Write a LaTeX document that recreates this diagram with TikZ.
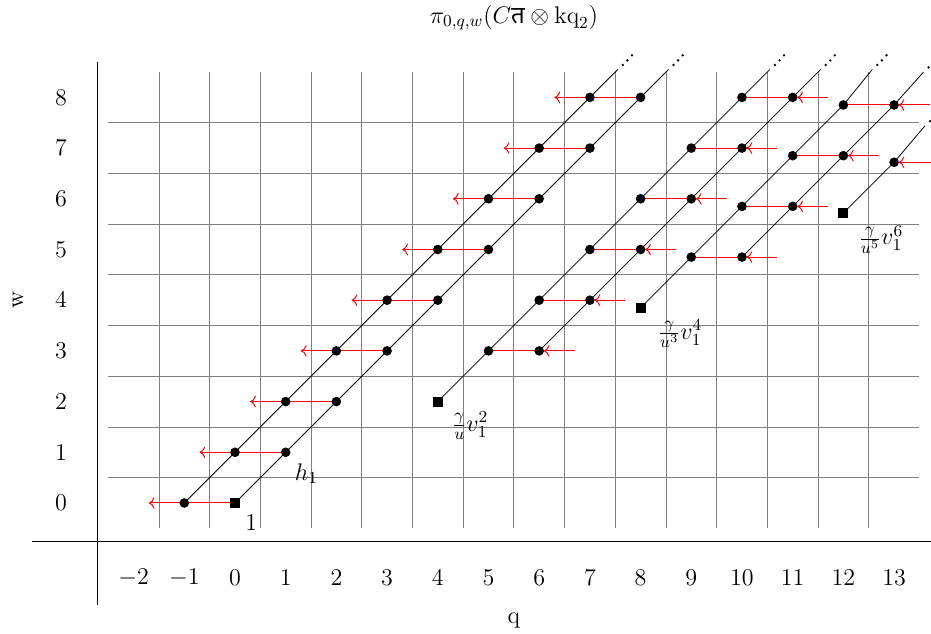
\RequirePackage{fix-cm}
\documentclass[tikz,border=0pt]{standalone}
\usepackage{fontspec}
\newfontfamily\devfont[Script=Devanagari]{Noto Sans}
\usetikzlibrary{arrows.meta}
\newcommand\mycdots[1]{\fill[black] (#1) ++(0.1,0.09) circle (0.026) ++(0.09,0.09) circle (0.026) ++(0.09,0.1) circle (0.026);}
\begin{document}
\begin{tikzpicture}[x=1cm,y=1cm,
  lbl/.style={font=\fontsize{13.5}{16}\selectfont, inner sep=0pt},
  gridline/.style={black!50, line width=0.45pt},
  axisline/.style={black, line width=0.55pt},
  dotcls/.style={circle, fill=black, inner sep=0pt, minimum size=0.19cm},
  sqcls/.style={rectangle, fill=black, inner sep=0pt, minimum size=0.2cm},
  tower/.style={black, line width=0.45pt},
  redline/.style={red, line width=0.55pt},
  redarrow/.style={red, line width=0.55pt, -{To[length=3.2pt,width=6.5pt]}},
]
\useasboundingbox (-4.635,-2.584) rectangle (13.728,9.921);

% grid
\foreach \y in {0.5,1.5,...,7.5} \draw[gridline] (-2.5,\y) -- (13.5,\y);
\foreach \x in {-1.5,-0.5,...,12.5} \draw[gridline] (\x,-0.5) -- (\x,8.5);

% axes
\coordinate (vaxT) at (-2.72,8.7);
\coordinate (vaxB) at (-2.72,-2.01);
\coordinate (haxL) at (-4.0,-0.75);
\coordinate (haxR) at (13.8,-0.75);
\draw[axisline] (vaxT) -- (vaxB);
\draw[axisline] (haxL) -- (haxR);

% axis tick labels
\foreach \q in {-2,...,13} \node[lbl] (q\q) at (\q,-1.48) {$\q$};
\foreach \w in {0,...,8} \node[lbl] (w\w) at (-3.43,\w) {$\w$};
\node[lbl] (qlabel) at (5.5,-2.31) {q};
\node[lbl, rotate=90] (wlabel) at (-4.28,4.0) {w};
\node[lbl] (title) at (5.5,9.57) {$\pi_{0,q,w}(C\mbox{\devfont त}\otimes\mathrm{kq}_2)$};

% ---------- classes ----------
% group 0
\foreach \w in {0,...,8} \coordinate (A\w) at ({\w-1},\w);
\coordinate (B0) at (0,0);
\foreach \w in {1,...,8} \coordinate (B\w) at (\w,\w);
% group 1
\coordinate (C2) at (4,2);
\foreach \w in {3,...,8} \coordinate (C\w) at ({\w+2},\w);
\foreach \w in {3,...,8} \coordinate (D\w) at ({\w+3},\w);
% group 2
\coordinate (E4) at (8,3.85);
\foreach \w in {5,...,8} \coordinate (E\w) at ({\w+4},{\w-0.15});
\foreach \w in {5,...,8} \coordinate (F\w) at ({\w+5},{\w-0.15});
% group 3
\coordinate (G6) at (12,5.72);
\coordinate (G7) at (13,6.72);

% tower ends
\coordinate (endA) at (7.55,8.55);
\coordinate (endB) at (8.55,8.55);
\coordinate (endC) at (10.55,8.55);
\coordinate (endD) at (11.55,8.55);
\coordinate (endE) at (12.57,8.55);
\coordinate (endF) at (13.58,8.50);
\coordinate (endG) at (13.61,7.44);

% tower lines
\draw[tower] (A0) -- (A8) -- (endA);
\draw[tower] (B0) -- (B8) -- (endB);
\draw[tower] (C2) -- (C8) -- (endC);
\draw[tower] (D3) -- (D8) -- (endD);
\draw[tower] (E4) -- (E8) -- (endE);
\draw[tower] (F5) -- (F8) -- (endF);
\draw[tower] (G6) -- (G7) -- (endG);

% ellipses
\mycdots{endA}
\mycdots{endB}
\mycdots{endC}
\mycdots{endD}
\mycdots{endE}
\mycdots{endF}
\mycdots{endG}

% red lines and arrows
\foreach \w in {0,...,8}{
  \coordinate (LA\w) at ({\w-1.7},\w);
  \draw[redarrow] (B\w) -- (LA\w);
}
\foreach \w in {3,...,8}{
  \coordinate (RD\w) at ({\w+3.7},\w);
  \draw[redline] (C\w) -- (D\w);
  \draw[redarrow] (RD\w) -- ([xshift=0.09cm]D\w);
}
\foreach \w in {5,...,8}{
  \coordinate (RF\w) at ({\w+5.7},{\w-0.15});
  \draw[redline] (E\w) -- (F\w);
  \draw[redarrow] (RF\w) -- ([xshift=0.09cm]F\w);
}
\coordinate (RG7) at (13.75,6.72);
\draw[redarrow] (RG7) -- ([xshift=0.09cm]G7);

% class marks on top
\foreach \w in {0,...,8} \node[dotcls] (a\w) at (A\w) {};
\node[sqcls] (b0) at (B0) {};
\foreach \w in {1,...,8} \node[dotcls] (b\w) at (B\w) {};
\node[sqcls] (c2) at (C2) {};
\foreach \w in {3,...,8} \node[dotcls] (c\w) at (C\w) {};
\foreach \w in {3,...,8} \node[dotcls] (d\w) at (D\w) {};
\node[sqcls] (e4) at (E4) {};
\foreach \w in {5,...,8} \node[dotcls] (e\w) at (E\w) {};
\foreach \w in {5,...,8} \node[dotcls] (f\w) at (F\w) {};
\node[sqcls] (g6) at (G6) {};
\node[dotcls] (g7) at (G7) {};

% class labels
\node[lbl] (lab1) at (0.32,-0.38) {$1$};
\node[lbl] (labh) at (1.41,0.58) {$h_1$};
\node[lbl] (labC) at (4.64,1.53) {$\frac{\gamma}{u}v_1^2$};
\node[lbl] (labE) at (8.78,3.34) {$\frac{\gamma}{u^3}v_1^4$};
\node[lbl] (labG) at (12.74,5.20) {$\frac{\gamma}{u^5}v_1^6$};
\end{tikzpicture}
\end{document}
